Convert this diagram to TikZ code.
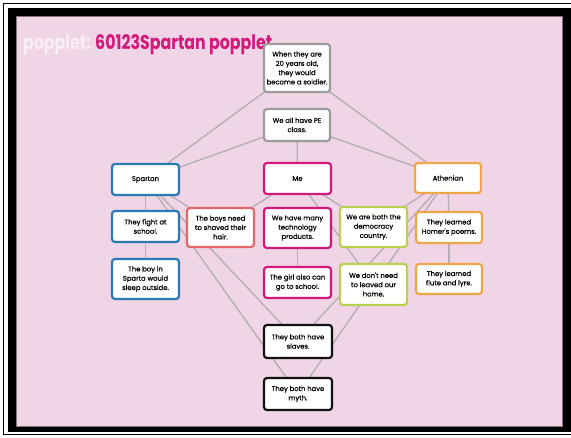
\documentclass[tikz,border=0pt]{standalone}
\usepackage{fontspec}
\setmainfont{Poppins}
\newfontfamily\nodefont{Poppins}[FakeBold=0.5]
\usepackage{graphicx}
\definecolor{bgpink}{HTML}{EFD5E5}
\definecolor{linegray}{HTML}{B8AEB8}
\definecolor{graybox}{HTML}{9C9C9C}
\definecolor{bluebox}{HTML}{2B79B5}
\definecolor{coralbox}{HTML}{E2666A}
\definecolor{magbox}{HTML}{D2187D}
\definecolor{greenbox}{HTML}{B9D050}
\definecolor{orangebox}{HTML}{EFA64B}
\definecolor{blackbox}{HTML}{111111}
\definecolor{titlemag}{HTML}{D5187C}
\definecolor{titlewhite}{HTML}{F8EFF4}
\pgfdeclarelayer{bg}
\pgfdeclarelayer{edges}
\pgfsetlayers{bg,edges,main}
\tikzset{
  pbox/.style={draw=#1, line width=2.2pt, rounded corners=3pt, fill=white,
    minimum width=66pt, inner sep=1pt, align=center, text=black,
    font=\nodefont\fontsize{6.8}{9.3}\selectfont},
  link/.style={draw=linegray, line width=1.4pt}
}
\begin{document}
\begin{tikzpicture}[x=1pt,y=-1pt]
\useasboundingbox (0,0) rectangle (571,438);
\begin{pgfonlayer}{bg}
  \fill[white] (0,0) rectangle (571,438);
  \draw[black, line width=1.2pt] (3.8,3.8) rectangle (571.5,434.3);
  \fill[black] (8,8) rectangle (571,432);
  \fill[bgpink] (16,16) rectangle (562,426);
  \draw[black!45!bgpink, line width=0.6pt] (16,16) rectangle (562,426);
\end{pgfonlayer}
\node[anchor=base west, inner sep=0] (title) at (23,50)
  {\scalebox{0.79}[1]{\fontsize{20}{24}\selectfont\bfseries{\color{titlewhite}popplet:} {\color{titlemag}60123Spartan popplet}}};
% nodes
\node[pbox=graybox, minimum height=48pt] (top) at (297,68) {When they are\\20 years old,\\they would\\become a soldier.};
\node[pbox=graybox, minimum height=32pt] (pe) at (297,125) {We all have PE\\class.};
\node[pbox=bluebox, minimum width=67pt, minimum height=31pt] (spartan) at (145.5,179.5) {Spartan};
\node[pbox=bluebox, minimum width=67pt, minimum height=31pt] (fight) at (145.5,226.5) {They fight at\\school.};
\node[pbox=bluebox, minimum width=67pt, minimum height=40pt] (boy) at (145.5,279) {The boy in\\Sparta would\\sleep outside.};
\node[pbox=coralbox, minimum width=67pt, minimum height=39pt] (boys) at (220.5,227.5) {The boys need\\to shaved their\\hair.};
\node[pbox=magbox, minimum width=67pt, minimum height=31pt] (me) at (297.5,178.5) {Me};
\node[pbox=magbox, minimum width=67pt, minimum height=40pt] (tech) at (297.5,228) {We have many\\technology\\products.};
\node[pbox=magbox, minimum width=67pt, minimum height=31pt] (girl) at (297.5,282.5) {The girl also can\\go to school.};
\node[pbox=greenbox, minimum width=67pt, minimum height=40pt] (demo) at (373.5,227) {We are both the\\democracy\\country.};
\node[pbox=greenbox, minimum width=67pt, minimum height=41pt] (home) at (373.5,284.5) {We don't need\\to leaved our\\home.};
\node[pbox=orangebox, minimum height=30pt] (ath) at (448,178) {Athenian};
\node[pbox=orangebox, minimum height=31pt] (homer) at (449,227.5) {They learned\\Homer's poems.};
\node[pbox=orangebox, minimum height=30pt] (flute) at (449,279) {They learned\\flute and lyre.};
\node[pbox=blackbox, minimum width=68pt, minimum height=33pt] (slaves) at (298,341.5) {They both have\\slaves.};
\node[pbox=blackbox, minimum width=68pt, minimum height=32pt] (myth) at (298,394) {They both have\\myth.};
% connectors
\begin{pgfonlayer}{edges}
  \foreach \a/\b in {top/spartan, top/ath, pe/spartan, pe/me, pe/ath,
      spartan/fight, fight/boy, spartan/boys, spartan/slaves, spartan/myth,
      boys/me, me/demo, me/home, tech/girl, ath/demo, ath/homer,
      homer/flute, ath/slaves, ath/myth}
    \draw[link] (\a.center) -- (\b.center);
\end{pgfonlayer}
\end{tikzpicture}
\end{document}
